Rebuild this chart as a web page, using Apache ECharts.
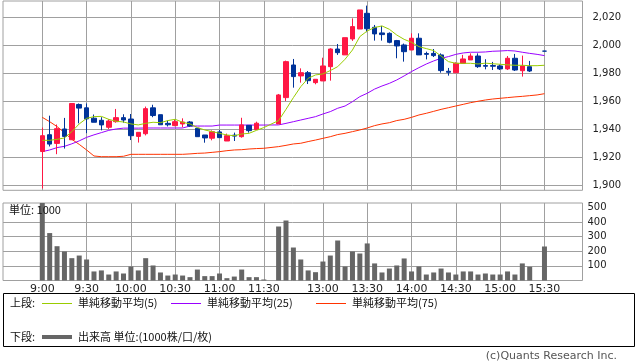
<!DOCTYPE html>
<html><head><meta charset="utf-8">
<script src="https://cdn.jsdelivr.net/npm/echarts@6/dist/echarts.min.js"></script>
<style>html,body{margin:0;padding:0;background:#fff}#c{width:638px;height:362px}</style>
</head><body><div id="c"></div>
<script>
// ---- time slots (5-minute bars), slot 31 is the lunch gap ----
const times = ['9:00','9:05','9:10','9:15','9:20','9:25','9:30','9:35','9:40','9:45','9:50','9:55',
 '10:00','10:05','10:10','10:15','10:20','10:25','10:30','10:35','10:40','10:45','10:50','10:55',
 '11:00','11:05','11:10','11:15','11:20','11:25','11:30','',
 '12:30','12:35','12:40','12:45','12:50','12:55','13:00','13:05','13:10','13:15','13:20','13:25',
 '13:30','13:35','13:40','13:45','13:50','13:55','14:00','14:05','14:10','14:15','14:20','14:25',
 '14:30','14:35','14:40','14:45','14:50','14:55','15:00','15:05','15:10','15:15','15:20','15:25','15:30'];
const xTickSlots = [0,6,12,18,24,30,38,44,50,56,62,68];
const priceTicks = [1900,1920,1940,1960,1980,2000,2020];
const volTicks = [100,200,300,400,500];

const opens  = [1923.9,1935.9,1929.7,1940.0,1932.3,1957.5,1955.1,1947.7,1946.2,1941.2,1945.2,1948.1,1947.1,1934.7,1936.6,1955.1,1950.2,1944.0,1942.4,1943.6,1945.0,1940.5,1935.7,1933.4,1937.9,1931.4,1935.6,1934.5,1942.6,1939.6,null,null,
 1943.6,1962.4,1985.7,1977.9,1980.2,1973.1,1974.3,1984.5,1997.1,1992.9,2004.3,2011.4,2022.6,2012.6,2008.6,2008.3,2003.1,2000.0,1996.4,2004.8,1993.9,1994.0,1992.9,1981.2,1980.2,1986.9,1989.3,1992.1,1985.3,1985.3,1985.0,1982.9,1990.5,1981.6,1984.5,null,1995.6];
const closes = [1935.2,1929.2,1940.2,1934.7,1958.2,1954.9,1947.2,1944.8,1942.9,1945.7,1948.1,1946.4,1935.2,1937.6,1954.5,1949.6,1943.0,1943.0,1945.2,1945.0,1942.1,1934.5,1933.6,1938.1,1933.8,1935.2,1934.9,1942.9,1938.8,1944.1,null,null,
 1964.3,1988.1,1977.4,1980.2,1974.5,1975.5,1985.0,1997.1,1994.5,2005.2,2013.1,2025.0,2011.6,2007.9,2007.4,2001.9,1999.3,1995.2,2004.8,1992.9,1993.3,1992.4,1981.7,1980.5,1986.9,1990.0,1992.1,1984.5,1984.8,1984.8,1982.9,1990.5,1982.1,1985.0,1981.4,null,1995.6];
const lows   = [1897.5,1927.5,1922.0,1926.0,1932.3,1944.0,1937.0,1944.8,1939.0,1940.0,1944.5,1944.5,1932.1,1930.3,1935.4,1948.4,1943.0,1941.8,1942.0,1941.2,1941.5,1934.5,1930.2,1931.9,1933.8,1931.4,1931.4,1933.8,1937.4,1939.6,null,null,
 1943.6,1960.0,1969.5,1973.1,1972.1,1971.9,1974.3,1974.5,1992.9,1992.9,2002.9,2011.4,2009.1,2003.1,2003.1,2001.2,1990.5,1988.1,1996.4,1992.9,1989.7,1991.4,1980.2,1978.1,1980.2,1986.9,1989.3,1983.6,1982.6,1982.1,1982.1,1982.1,1981.4,1977.4,1980.7,null,1995.6];
const highs  = [1941.0,1949.5,1943.2,1947.9,1958.2,1958.2,1958.2,1950.3,1948.4,1947.0,1954.3,1950.5,1950.7,1937.6,1956.0,1957.3,1950.2,1946.0,1946.8,1947.6,1945.7,1940.7,1935.7,1939.0,1939.3,1936.7,1937.4,1948.0,1942.6,1945.2,null,null,
 1965.0,1988.8,1990.0,1983.3,1981.4,1975.5,1990.9,1997.6,2000.7,2005.2,2019.0,2025.0,2028.1,2014.3,2013.6,2009.0,2003.6,2001.0,2008.3,2008.3,1995.2,1997.1,1994.0,1983.6,1987.6,1992.9,1994.0,1994.0,1989.8,1987.9,1986.0,1992.1,1993.6,1992.4,1988.6,null,1995.6];
const volume = [600,325,235,199,153,171,144,62,69,41,62,48,96,69,153,103,55,34,41,34,23,75,30,30,48,16,27,75,23,23,7,null,
 370,411,226,144,69,57,130,171,274,96,199,185,254,117,55,82,103,151,62,96,41,55,82,55,41,62,62,41,48,41,41,62,41,117,94,null,233];
const ma5  = [1931.9,1931.9,1932.6,1933.6,1938.1,1943.6,1947.6,1948.8,1949.0,1946.9,1945.5,1945.0,1943.6,1942.9,1944.0,1944.8,1944.5,1946.0,1946.9,1944.8,1943.6,1941.0,1939.3,1938.1,1936.9,1935.7,1935.2,1936.4,1936.9,1939.0,1941.0,null,
 1946.0,1954.0,1962.4,1970.2,1976.2,1978.6,1979.3,1981.7,1984.5,1989.8,1996.4,2006.0,2010.0,2012.5,2013.6,2011.2,2007.1,2004.0,2001.9,1998.8,1997.4,1996.0,1992.1,1988.1,1986.9,1986.9,1986.9,1986.4,1987.0,1986.6,1986.2,1985.8,1985.5,1985.5,1985.2,1985.2,1985.5];
const ma25 = [1923.8,1925.0,1926.7,1927.6,1929.4,1931.5,1934.0,1935.8,1937.4,1939.0,1940.0,1940.6,1940.6,1940.6,1940.7,1940.7,1940.7,1940.7,1940.7,1940.7,1942.1,1942.1,1942.1,1942.1,1942.8,1942.8,1942.8,1942.8,1942.8,1942.8,1942.8,null,
 1942.9,1944.0,1945.2,1946.4,1947.6,1948.8,1950.7,1952.4,1954.8,1956.4,1959.5,1963.1,1965.5,1968.5,1970.7,1972.6,1975.0,1977.9,1981.0,1983.8,1986.4,1988.6,1990.5,1991.7,1993.3,1994.3,1994.8,1994.8,1995.0,1995.5,1995.7,1996.0,1995.7,1994.8,1994.0,1993.3,1992.4];
const ma75 = [1948.3,1945.2,1941.7,1937.4,1932.6,1929.0,1925.0,1920.7,1920.2,1920.2,1920.2,1920.5,1921.9,1921.9,1921.9,1921.9,1921.9,1921.9,1921.9,1921.9,1922.2,1922.6,1922.8,1923.3,1923.8,1924.5,1925.0,1925.2,1925.7,1926.0,1926.2,null,
 1927.4,1928.3,1929.3,1929.8,1931.0,1932.1,1933.3,1934.5,1936.0,1936.9,1938.1,1939.3,1940.7,1942.4,1943.6,1944.5,1946.0,1946.9,1948.3,1950.0,1951.2,1952.6,1954.0,1955.2,1956.4,1957.6,1958.8,1959.8,1960.7,1961.4,1961.9,1962.4,1962.9,1963.3,1963.8,1964.3,1965.2];

const RED = '#ff1744', BLUE = '#003399', GRID = '#a0a0a0';
const candles = [];
times.forEach((t, i) => { if (opens[i] != null) candles.push([i, opens[i], closes[i], lows[i], highs[i]]); });
const volData = [];
volume.forEach((v, i) => { if (v != null) volData.push([i, v]); });
const lineData = arr => arr.map((v, i) => [i, v]).filter(p => p[1] != null);

const chart = echarts.init(document.getElementById('c'), null, {renderer: 'canvas'});
const axisFont = {fontFamily: 'DejaVu Sans', fontSize: 10, color: '#222'};
const xCommon = {
  type: 'value', min: -5.32, max: 73.15,
  axisLine: {show: false},
  axisTick: {show: false, customValues: xTickSlots},
  splitLine: {show: true, lineStyle: {color: GRID, width: 1}}
};
chart.setOption({
  animation: false,
  grid: [
    {left: 3, right: 55.5, top: 1, height: 189.3, show: true, borderColor: GRID, borderWidth: 1},
    {left: 3, right: 55.5, top: 203, height: 77.5, show: true, borderColor: GRID, borderWidth: 1}
  ],
  xAxis: [
    Object.assign({gridIndex: 0, axisLabel: {show: false, customValues: xTickSlots}}, xCommon),
    Object.assign({gridIndex: 1, axisLabel: Object.assign({show: true, margin: 3, customValues: xTickSlots,
      formatter: v => times[Math.round(v)]}, axisFont, {fontSize: 11})}, xCommon)
  ],
  yAxis: [
    {gridIndex: 0, type: 'value', position: 'right', min: 1896.2, max: 2031.4, scale: true,
     axisLine: {show: false},
     axisTick: {show: true, inside: false, length: 5, lineStyle: {color: GRID}, customValues: priceTicks},
     axisLabel: Object.assign({margin: 10, customValues: priceTicks, formatter: v => v.toLocaleString('en-US')}, axisFont),
     splitLine: {show: true, lineStyle: {color: GRID, width: 1}}},
    {gridIndex: 1, type: 'value', position: 'right', min: 0, max: 531,
     axisLine: {show: false},
     axisTick: {show: false, customValues: [100,200,300,400]},
     axisLabel: Object.assign({margin: 5, customValues: volTicks}, axisFont),
     splitLine: {show: true, lineStyle: {color: GRID, width: 1}}}
  ],
  series: [
    {type: 'line', xAxisIndex: 0, yAxisIndex: 0, data: lineData(ma75), symbol: 'none',
     lineStyle: {color: '#ff3300', width: 1}, z: 2},
    {type: 'line', xAxisIndex: 0, yAxisIndex: 0, data: lineData(ma25), symbol: 'none',
     lineStyle: {color: '#9900ff', width: 1}, z: 2},
    {type: 'candlestick', xAxisIndex: 0, yAxisIndex: 0, data: candles, barWidth: 5,
     encode: {x: 0, y: [1, 2, 3, 4]},
     itemStyle: {color: RED, color0: BLUE, borderColor: RED, borderColor0: BLUE, borderColorDoji: BLUE, borderWidth: 1}, z: 3},
    {type: 'line', xAxisIndex: 0, yAxisIndex: 0, data: lineData(ma5), symbol: 'none',
     lineStyle: {color: '#99cc00', width: 1}, z: 4},
    {type: 'bar', xAxisIndex: 1, yAxisIndex: 1, data: volData, barWidth: 5,
     itemStyle: {color: '#666666'}}
  ],
  graphic: [
    {type: 'text', left: 9, top: 204, z: 100, style: {text: '単位: 1000', fill: '#111',
      font: '11px "Noto Sans CJK JP"'}},
    {type: 'rect', shape: {x: 3.5, y: 293.5, width: 631, height: 53}, style: {fill: 'none', stroke: '#000', lineWidth: 1}},
    {type: 'text', x: 10, y: 303, style: {text: '上段:', font: '11px "Noto Sans CJK JP"', fill: '#111', textVerticalAlign: 'middle'}},
    {type: 'line', shape: {x1: 42, y1: 303.5, x2: 72, y2: 303.5}, style: {stroke: '#99cc00', lineWidth: 1}},
    {type: 'text', x: 78, y: 303, style: {text: '単純移動平均(5)', font: '11px "Noto Sans CJK JP"', fill: '#111', textVerticalAlign: 'middle'}},
    {type: 'line', shape: {x1: 171, y1: 303.5, x2: 201, y2: 303.5}, style: {stroke: '#9900ff', lineWidth: 1}},
    {type: 'text', x: 207, y: 303, style: {text: '単純移動平均(25)', font: '11px "Noto Sans CJK JP"', fill: '#111', textVerticalAlign: 'middle'}},
    {type: 'line', shape: {x1: 316, y1: 303.5, x2: 346, y2: 303.5}, style: {stroke: '#ff3300', lineWidth: 1}},
    {type: 'text', x: 352, y: 303, style: {text: '単純移動平均(75)', font: '11px "Noto Sans CJK JP"', fill: '#111', textVerticalAlign: 'middle'}},
    {type: 'text', x: 10, y: 337, style: {text: '下段:', font: '11px "Noto Sans CJK JP"', fill: '#111', textVerticalAlign: 'middle'}},
    {type: 'line', shape: {x1: 42, y1: 337, x2: 72, y2: 337}, style: {stroke: '#666666', lineWidth: 4}},
    {type: 'text', x: 78, y: 337, style: {text: '出来高 単位:(1000株/口/枚)', font: '11px "Noto Sans CJK JP"', fill: '#111', textVerticalAlign: 'middle'}},
    {type: 'text', x: 617, y: 356, style: {text: '(c)Quants Research Inc.', font: '11px "DejaVu Sans"', fill: '#555', textAlign: 'right', textVerticalAlign: 'middle'}}
  ]
});
</script></body></html>
